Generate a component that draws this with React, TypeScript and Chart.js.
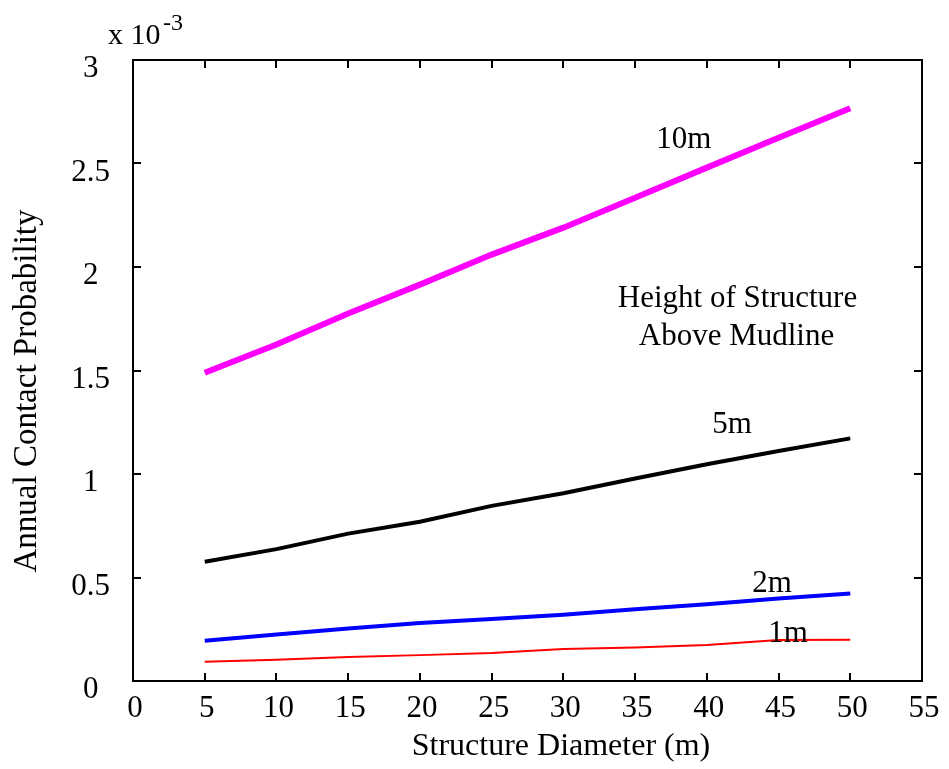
import React, { useEffect, useRef } from "react";
import { Chart, registerables } from "chart.js";

Chart.register(...registerables);

// Structure diameter (m)
const diameters = [5, 10, 15, 20, 25, 30, 35, 40, 45, 50];
// Annual contact probability, in units of 1e-3
const p10m = [1.489, 1.626, 1.775, 1.915, 2.06, 2.19, 2.335, 2.48, 2.624, 2.767];
const p5m = [0.576, 0.637, 0.712, 0.769, 0.846, 0.907, 0.978, 1.047, 1.111, 1.172];
const p2m = [0.195, 0.225, 0.254, 0.28, 0.299, 0.32, 0.347, 0.371, 0.399, 0.423];
const p1m = [0.093, 0.103, 0.116, 0.125, 0.135, 0.154, 0.162, 0.174, 0.198, 0.199];

const seriesNames = ["10m", "5m", "2m", "1m"];
const seriesColors = ["#ff00ff", "#000000", "#0000ff", "#ff0000"];
const seriesWidths = [6, 4, 4, 2];

// Label anchors in data coordinates [x, y(baseline)]
const labelAnchors: [number, number][] = [
  [38.4, 2.575],
  [41.76, 1.198],
  [44.55, 0.43],
  [45.66, 0.188],
];
const noteLines = ["Height of Structure", "Above Mudline"];
const noteAnchors: [number, number][] = [
  [42.14, 1.807],
  [42.07, 1.623],
];

const xTitle = "Structure Diameter (m)";
const yTitle = "Annual Contact Probability";
const FONT = "'Liberation Serif', 'Times New Roman', serif";

const boxPlugin = {
  id: "boxAndText",
  afterDraw(chart: any) {
    const { ctx, chartArea: a, scales } = chart;
    const xs = scales.x;
    const ys = scales.y;
    ctx.save();
    // box
    ctx.strokeStyle = "#000";
    ctx.lineWidth = 2;
    ctx.strokeRect(a.left, a.top, a.right - a.left, a.bottom - a.top);
    // inward ticks
    const tl = 8;
    ctx.beginPath();
    xs.ticks.forEach((t: any) => {
      const px = Math.round(xs.getPixelForValue(t.value));
      if (px <= a.left + 1 || px >= a.right - 1) return;
      ctx.moveTo(px, a.bottom);
      ctx.lineTo(px, a.bottom - tl);
      ctx.moveTo(px, a.top);
      ctx.lineTo(px, a.top + tl);
    });
    ys.ticks.forEach((t: any) => {
      const py = Math.round(ys.getPixelForValue(t.value));
      if (py <= a.top + 1 || py >= a.bottom - 1) return;
      ctx.moveTo(a.left, py);
      ctx.lineTo(a.left + tl, py);
      ctx.moveTo(a.right, py);
      ctx.lineTo(a.right - tl, py);
    });
    ctx.stroke();

    ctx.fillStyle = "#000";
    // series labels
    ctx.font = `31px ${FONT}`;
    ctx.textAlign = "center";
    ctx.textBaseline = "alphabetic";
    seriesNames.forEach((n, i) => {
      const [vx, vy] = labelAnchors[i];
      ctx.fillText(n, xs.getPixelForValue(vx), ys.getPixelForValue(vy));
    });
    noteLines.forEach((n, i) => {
      const [vx, vy] = noteAnchors[i];
      ctx.fillText(n, xs.getPixelForValue(vx), ys.getPixelForValue(vy));
    });

    // axis titles
    ctx.font = `32px ${FONT}`;
    ctx.textBaseline = "middle";
    ctx.fillText(xTitle, 561, a.bottom + 66);
    ctx.save();
    ctx.font = `33px ${FONT}`;
    ctx.translate(27, 391);
    ctx.rotate(-Math.PI / 2);
    ctx.fillText(yTitle, 0, 0);
    ctx.restore();

    // exponent
    ctx.textAlign = "left";
    ctx.textBaseline = "alphabetic";
    ctx.font = `30px ${FONT}`;
    ctx.fillText("x 10", a.left - 25, a.top - 16);
    ctx.font = `24px ${FONT}`;
    ctx.fillText("-3", a.left + 30, a.top - 30);
    ctx.restore();
  },
};

export default function App() {
  const ref = useRef<HTMLCanvasElement | null>(null);
  useEffect(() => {
    if (!ref.current) return;
    const allSeries = [p10m, p5m, p2m, p1m];
    const chart = new Chart(ref.current, {
      type: "line",
      data: {
        datasets: allSeries.map((s, i) => ({
          label: seriesNames[i],
          data: diameters.map((d, j) => ({ x: d, y: s[j] })),
          borderColor: seriesColors[i],
          backgroundColor: seriesColors[i],
          borderWidth: seriesWidths[i],
          pointRadius: 0,
          tension: 0,
          fill: false,
        })),
      },
      options: {
        responsive: false,
        animation: false,
        devicePixelRatio: 1,
        layout: { padding: { top: 60, right: 27, left: 0, bottom: 0 } },
        plugins: { legend: { display: false }, tooltip: { enabled: false } },
        scales: {
          x: {
            type: "linear",
            min: 0,
            max: 55,
            grid: { display: false, drawTicks: false },
            border: { display: false },
            ticks: {
              stepSize: 5,
              padding: 9,
              labelOffset: 2,
              color: "#000",
              maxRotation: 0,
              autoSkip: false,
              font: { family: FONT, size: 31 },
            },
            afterFit: (s: any) => {
              s.height = 88;
            },
          },
          y: {
            type: "linear",
            min: 0,
            max: 3,
            grid: { display: false, drawTicks: false },
            border: { display: false },
            ticks: {
              stepSize: 0.5,
              padding: 23,
              crossAlign: "center",
              labelOffset: 9,
              color: "#000",
              font: { family: FONT, size: 31 },
              callback: (v: any) => String(v),
            },
            afterFit: (s: any) => {
              s.width = 133;
            },
          },
        },
      },
      plugins: [boxPlugin],
    });
    return () => chart.destroy();
  }, []);
  return (
    <div style={{ position: "absolute", left: 0, top: 0, width: 949, height: 769, background: "#fff" }}>
      <canvas ref={ref} width={949} height={769} style={{ display: "block" }} />
    </div>
  );
}
